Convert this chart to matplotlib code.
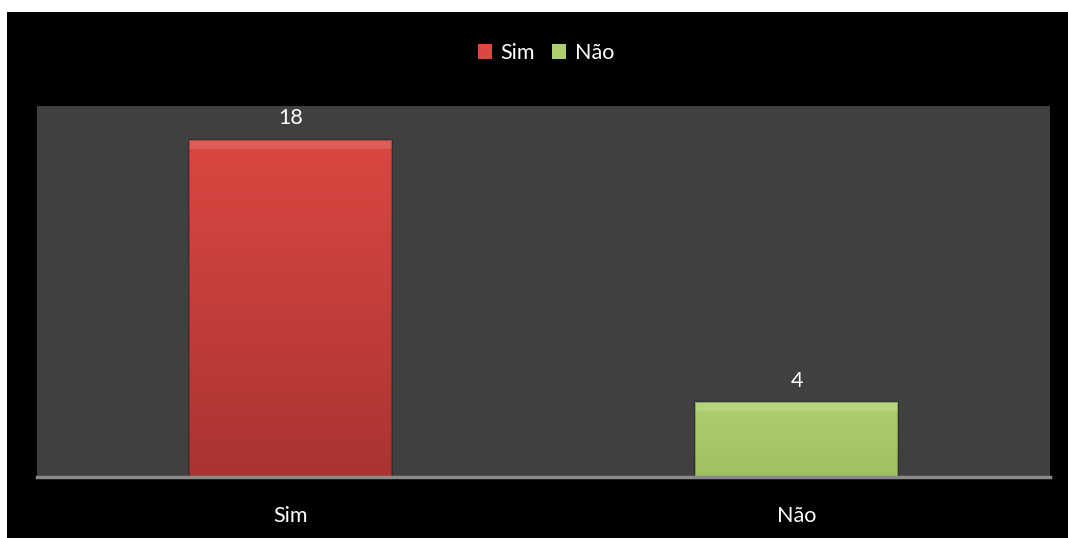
import matplotlib
matplotlib.use("Agg")
import matplotlib.pyplot as plt
import numpy as np
from matplotlib.patches import Rectangle, Patch
from matplotlib.colors import LinearSegmentedColormap

categories = ["Sim", "Não"]
values = [18, 4]
series_names = ["Sim", "Não"]
top_colors = ["#DC4742", "#AECF70"]
bottom_colors = ["#A93431", "#9FC160"]

plt.rcParams['font.family'] = ['Lato', 'DejaVu Sans']

W, H = 1068, 538
fig = plt.figure(figsize=(W / 100, H / 100), dpi=100, facecolor="white")
fig.patches.append(Rectangle((7 / W, 0), 1 - 7 / W, 1 - 12 / H, transform=fig.transFigure,
                             facecolor="black", edgecolor="none", zorder=-10))

ax = fig.add_axes([37 / W, (H - 477) / H, (1050 - 37) / W, (477 - 106) / H])
ax.set_facecolor("#404040")
ax.set_xlim(-0.5, 1.5)
ax.set_ylim(0, 19.8)

x = np.arange(len(categories))
bars = ax.bar(x, values, width=0.4, color=top_colors, edgecolor="none", zorder=2)

# gradient fill inside each bar
for b, c1, c2 in zip(bars, top_colors, bottom_colors):
    x0, y0 = b.get_x(), b.get_y()
    w, h = b.get_width(), b.get_height()
    cmap = LinearSegmentedColormap.from_list("g", [c2, c1])
    grad = np.linspace(0, 1, 256).reshape(-1, 1)
    im = ax.imshow(grad, extent=(x0, x0 + w, y0, y0 + h), origin="lower",
                   cmap=cmap, aspect="auto", zorder=3)
    im.set_clip_path(b)
    # bevel top highlight
    ax.add_patch(Rectangle((x0, y0 + h - 0.5), w, 0.5,
                           facecolor="white", alpha=0.12, edgecolor="none", zorder=4))
    ax.add_patch(Rectangle((x0, y0), w, h, facecolor="none", edgecolor="black",
                           alpha=0.22, linewidth=1.5, zorder=4))

for xi, v in zip(x, values):
    ax.text(xi, v + 0.6, str(v), ha="center", va="bottom", color="white", fontsize=15.5)

ax.set_xticks(x)
ax.set_xticklabels(categories, color="white", fontsize=15.5)
ax.tick_params(axis="x", length=0, pad=21)
ax.set_yticks([])
for s in ["top", "left", "right"]:
    ax.spines[s].set_visible(False)
ax.spines["bottom"].set_color("#8a8a8a")
ax.spines["bottom"].set_linewidth(2.5)
ax.spines["bottom"].set_zorder(5)

handles = [Patch(facecolor=c, edgecolor="none") for c in top_colors]
fig.legend(handles, series_names, loc="center", bbox_to_anchor=(546 / W, 1 - 53 / H),
           ncol=2, frameon=False, fontsize=15.5, labelcolor="white",
           handlelength=0.65, handleheight=0.65, handletextpad=0.4, columnspacing=0.8)

fig.savefig("out.png", dpi=100, facecolor="white")
